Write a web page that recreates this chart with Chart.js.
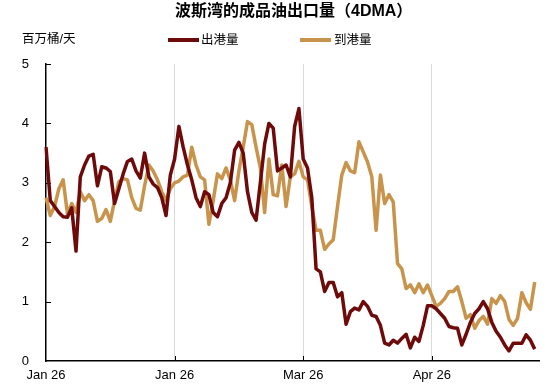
<!DOCTYPE html>
<html><head><meta charset="utf-8">
<script src="https://cdn.jsdelivr.net/npm/chart.js@4"></script>
<style>html,body{margin:0;padding:0;background:#fff}</style>
</head><body>
<canvas id="c" width="550" height="388"></canvas>
<script>
// 出港量 (outbound), million barrels/day, 4DMA
const outbound = [3.6,2.7,2.6,2.5,2.43,2.42,2.58,1.85,3.1,3.3,3.45,3.48,2.95,3.27,3.25,3.19,2.65,2.9,3.15,3.36,
3.4,3.2,3.08,3.5,3.1,2.98,2.92,2.75,2.45,3.13,3.4,3.95,3.6,3.3,3.05,2.75,2.6,2.85,2.8,2.5,
2.43,2.65,2.75,3.0,3.55,3.68,3.5,2.85,2.5,2.37,3.0,3.65,4.0,3.92,3.2,3.25,3.3,3.1,3.95,4.25,
3.4,3.25,2.75,1.55,1.5,1.17,1.32,1.32,1.08,1.15,0.62,0.83,0.89,0.86,1.0,0.92,0.77,0.75,0.6,0.3,
0.27,0.35,0.3,0.38,0.45,0.22,0.4,0.33,0.6,0.93,0.93,0.88,0.8,0.72,0.58,0.56,0.55,0.27,0.45,0.65,
0.8,0.88,1.0,0.88,0.65,0.5,0.4,0.27,0.17,0.3,0.3,0.3,0.44,0.35,0.2];
// 到港量 (inbound)
const inbound = [2.75,2.45,2.6,2.9,3.05,2.48,2.65,2.5,2.85,2.7,2.8,2.7,2.35,2.4,2.55,2.35,2.7,3.02,3.07,3.05,
2.75,2.57,2.54,2.95,3.3,3.2,3.05,2.85,2.7,2.9,3.0,3.03,3.1,3.13,3.6,3.3,3.1,3.05,2.3,2.7,
3.15,3.07,3.25,3.05,2.7,3.2,3.6,4.03,3.98,3.6,3.25,2.5,3.4,2.8,2.78,3.3,2.6,3.1,3.15,3.36,
3.1,3.05,2.6,2.2,2.2,1.88,1.97,2.04,2.6,3.13,3.34,3.2,3.17,3.69,3.52,3.35,3.1,2.2,3.13,2.65,
2.8,2.68,1.64,1.55,1.22,1.28,1.15,1.3,1.15,1.28,1.1,0.92,0.97,1.05,1.17,1.17,1.25,1.0,0.72,0.78,
0.55,0.68,0.75,0.62,1.05,0.97,1.1,1.0,0.7,0.6,0.72,1.15,0.98,0.87,1.33];
const tickIndex = [0,30,60,90];
const tickLabels = ['Jan 26','Jan 26','Mar 26','Apr 26'];
const yTicks = [0,1,2,3,4,5];
const seriesNames = ['出港量','到港量'];
const seriesColors = ['#6E0A0A','#C8944C'];
const titleText = '波斯湾的成品油出口量（4DMA）';
const unitText = '百万桶/天';
const nSlots = 116;
const categories = Array.from({length:nSlots},(_, i)=> String(i));

const FONT = "'Liberation Sans', Arial, 'Noto Sans CJK SC', sans-serif";

const headerPlugin = {
  id:'header',
  afterDraw(chart){
    const ctx = chart.ctx;
    ctx.save();
    ctx.textBaseline = 'middle';
    ctx.textAlign = 'left';
    ctx.fillStyle = '#000';
    ctx.font = `bold 16px ${FONT}`;
    ctx.fillText(titleText, 175, 12);
    ctx.font = `12.5px ${FONT}`;
    ctx.fillText(unitText, 22, 40);
    const items = [{x:168, tx:201},{x:300, tx:334}];
    items.forEach((it,i)=>{
      ctx.fillStyle = seriesColors[i];
      ctx.fillRect(it.x, 38, 31, 4);
      ctx.fillStyle = '#000';
      ctx.fillText(seriesNames[i], it.tx, 40.5);
    });
    ctx.restore();
  },
  beforeDatasetsDraw(chart){
    const ctx = chart.ctx, x = chart.scales.x, y = chart.scales.y;
    ctx.save();
    ctx.strokeStyle = '#000';
    ctx.lineWidth = 1;
    yTicks.forEach(v=>{
      if(v===0) return;
      const py = Math.round(y.getPixelForValue(v))+0.5;
      ctx.beginPath(); ctx.moveTo(x.left, py); ctx.lineTo(x.left+5, py); ctx.stroke();
    });
    tickIndex.forEach(i=>{
      if(i===0) return;
      const px = Math.round(x.getPixelForValue(i))+0.5;
      ctx.beginPath(); ctx.moveTo(px, y.bottom); ctx.lineTo(px, y.bottom-5); ctx.stroke();
    });
    ctx.restore();
  }
};

new Chart(document.getElementById('c'), {
  type:'line',
  data:{
    labels: categories,
    datasets:[
      {label:seriesNames[0], data: outbound, borderColor: seriesColors[0], borderWidth:3.5, pointRadius:0, tension:0, borderJoinStyle:'round', fill:false},
      {label:seriesNames[1], data: inbound, borderColor: seriesColors[1], borderWidth:3.5, pointRadius:0, tension:0, borderJoinStyle:'round', fill:false}
    ]
  },
  plugins:[headerPlugin],
  options:{
    responsive:false,
    animation:false,
    layout:{padding:{left:0,right:11,top:64,bottom:0}},
    plugins:{
      legend:{display:false},
      tooltip:{enabled:false},
      title:{display:false}
    },
    scales:{
      x:{
        type:'category',
        offset:false,
        afterBuildTicks(s){ s.ticks = tickIndex.map(v=>({value:v})); },
        afterFit(s){ s.height = 27; },
        ticks:{autoSkip:false, maxRotation:0, minRotation:0, padding:7, color:'#000',
          font:{family:FONT, size:13}, callback:(v,i)=>tickLabels[i]},
        grid:{drawTicks:false, lineWidth:1, color:(c)=> c.index===0 ? 'rgba(0,0,0,0)' : '#D9D9D9'},
        border:{display:true, color:'#000', width:1.5}
      },
      y:{
        min:0, max:5,
        afterFit(s){ s.width = 46; },
        afterBuildTicks(s){ s.ticks = yTicks.map(v=>({value:v})); },
        ticks:{padding:17, color:'#000', font:{family:FONT, size:13}},
        grid:{drawTicks:false, color:'rgba(0,0,0,0)'},
        border:{display:true, color:'#000', width:1.5}
      }
    }
  }
});
</script>
</body></html>
